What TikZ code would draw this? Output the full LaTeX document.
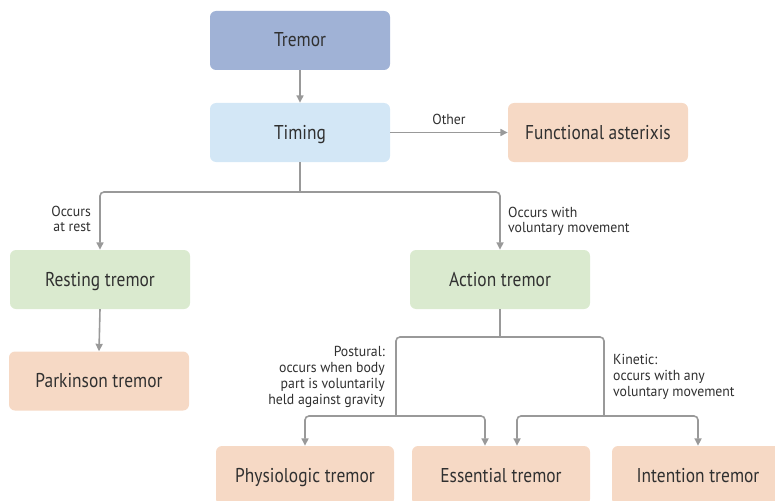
\documentclass[tikz,border=0pt]{standalone}
\usepackage{fontspec}
\setmainfont{PT Sans}[FakeStretch=0.87]
\newfontfamily\labelfont{PT Sans}[FakeStretch=0.95]
\usetikzlibrary{arrows.meta}

\definecolor{txt}{HTML}{303030}
\definecolor{wire}{HTML}{999999}
\definecolor{topblue}{HTML}{A0B2D6}
\definecolor{paleblue}{HTML}{D3E7F6}
\definecolor{peach}{HTML}{F6D9C5}
\definecolor{palegreen}{HTML}{DAEACF}

\tikzset{
  box/.style={rounded corners=6pt, minimum width=180pt, minimum height=59pt,
    inner sep=0pt, text=txt, font=\fontsize{20}{23}\selectfont,
    text height=14pt, text depth=1pt},
  lbl/.style={text=txt, font=\labelfont\fontsize{14.5}{15.8}\selectfont, inner sep=0pt},
  wirepath/.style={draw=wire, line width=1.6pt, rounded corners=4pt},
  conn/.style={wirepath, -{Triangle[length=7.5pt,width=7pt]}},
}

\begin{document}
\begin{tikzpicture}[x=1pt,y=1pt]
  \useasboundingbox (0,0) rectangle (775,-500);
  \clip (0,0) rectangle (775,-500);

  % boxes
  \node[box, fill=topblue]   (tremor)   at (300,-40.5)  {Tremor};
  \node[box, fill=paleblue]  (timing)   at (300,-132.5) {Timing};
  \node[box, fill=peach]     (func)     at (598,-132.5) {Functional asterixis};
  \node[box, fill=palegreen] (resting)  at (100,-279.5) {Resting tremor};
  \node[box, fill=palegreen] (action)   at (500,-279.5) {Action tremor};
  \node[box, fill=peach]     (parkinson) at (99,-381)   {Parkinson tremor};
  \node[box, fill=peach, minimum width=178pt] (physio)    at (305,-475.5) {Physiologic tremor};
  \node[box, fill=peach, minimum width=178pt] (essential) at (501,-475.5) {Essential tremor};
  \node[box, fill=peach, minimum width=172pt] (intention) at (698,-475.5) {Intention tremor};

  % junction points
  \coordinate (split1) at (300,-192);
  \coordinate (split2) at (500,-337);
  \coordinate (pj) at (396,-416);
  \coordinate (kj) at (604,-416);

  % connectors
  \draw[conn] (tremor.south) -- (timing.north);
  \draw[conn] (timing.east) -- node[lbl, above=7pt] (other) {Other} (func.west);
  \draw[wirepath] (timing.south) -- (split1);
  \draw[conn] (split1) -| (resting.north);
  \draw[conn] (split1) -| (action.north);
  \draw[conn] (resting.south) -- (parkinson.north);

  \draw[wirepath] (action.south) -- (split2);
  \draw[wirepath] (split2) -| (pj);
  \draw[wirepath] (split2) -| (kj);
  \draw[conn] (pj) -| (physio.north);
  \draw[conn] (pj) -| ([xshift=-16pt]essential.north);
  \draw[conn] (kj) -| ([xshift=16pt]essential.north);
  \draw[conn] (kj) -| (intention.north);

  % branch labels
  \node[lbl, align=right, anchor=north east] (rest) at (91,-205.5) {Occurs\\at rest};
  \node[lbl, align=left, anchor=north west] (vol) at (508,-206.5) {Occurs with\\voluntary movement};
  \node[lbl, align=right, anchor=north east] (postural) at (385,-346.5)
    {Postural:\\occurs when body\\part is voluntarily\\held against gravity};
  \node[lbl, align=left, anchor=north west] (kinetic) at (613,-354)
    {Kinetic:\\occurs with any\\voluntary movement};
\end{tikzpicture}
\end{document}
